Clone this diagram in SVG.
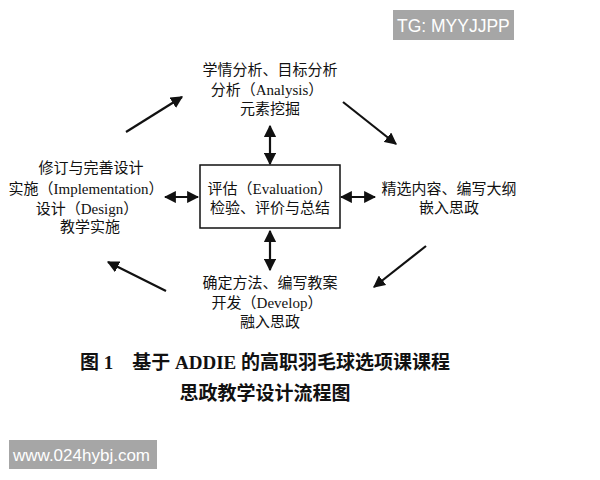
<svg xmlns="http://www.w3.org/2000/svg" width="600" height="480" viewBox="0 0 600 480">
<defs>
<marker id="ah" viewBox="0 0 10 10" refX="9" refY="5" markerWidth="5.5" markerHeight="5.5" orient="auto-start-reverse" markerUnits="strokeWidth">
<path d="M0,0 L10,5 L0,10 z" fill="#111"/>
</marker>
<style>
.t{font-family:"Liberation Serif","Noto Sans CJK SC",serif;font-size:15px;fill:#111;text-anchor:middle;dominant-baseline:central}
.c{font-family:"Liberation Serif","Noto Sans CJK SC",serif;font-size:19px;font-weight:bold;fill:#111;text-anchor:middle;dominant-baseline:central}
.w{font-family:"Liberation Sans","Noto Sans",sans-serif;fill:#fff;dominant-baseline:central}
.ln{stroke:#111;stroke-width:2.2;fill:none;marker-end:url(#ah)}
.dl{stroke:#111;stroke-width:2.2;fill:none;marker-end:url(#ah);marker-start:url(#ah)}
</style>
</defs>
<rect width="600" height="480" fill="#fff"/>
<g id="wm1"><rect x="393" y="10" width="121" height="30" fill="#a6a6a6"/><text class="w" x="397" y="25.500" font-size="17.500">TG: MYYJJPP</text></g>
<g id="analysis">
<text class="t" x="270" y="70">学情分析、目标分析</text>
<text class="t" x="267" y="90">分析（Analysis）</text>
<text class="t" x="270" y="109">元素挖掘</text>
</g>
<g id="evaluation">
<rect x="200" y="165" width="140" height="63" fill="#fff" stroke="#111" stroke-width="1.5"/>
<text class="t" x="270" y="189">评估（Evaluation）</text>
<text class="t" x="270" y="208">检验、评价与总结</text>
</g>
<g id="implementation">
<text class="t" x="91" y="168">修订与完善设计</text>
<text class="t" x="86" y="189">实施（Implementation）</text>
<text class="t" x="87" y="209">设计（Design）</text>
<text class="t" x="90" y="227">教学实施</text>
</g>
<g id="design">
<text class="t" x="449" y="189">精选内容、编写大纲</text>
<text class="t" x="449" y="208">嵌入思政</text>
</g>
<g id="develop">
<text class="t" x="270" y="283">确定方法、编写教案</text>
<text class="t" x="267" y="303">开发（Develop）</text>
<text class="t" x="270" y="322">融入思政</text>
</g>
<g id="connectors">
<line class="ln" x1="126" y1="132" x2="182" y2="97"/>
<line class="ln" x1="343" y1="102" x2="396" y2="144"/>
<line class="ln" x1="426" y1="246" x2="374" y2="287"/>
<line class="ln" x1="166" y1="291" x2="108" y2="262"/>
<line class="dl" x1="270" y1="126" x2="270" y2="164"/>
<line class="dl" x1="270" y1="231" x2="270" y2="270"/>
<line class="dl" x1="165" y1="197" x2="198" y2="197"/>
<line class="dl" x1="341" y1="197" x2="375" y2="197"/>
</g>
<g id="caption">
<text class="c" x="265" y="362">图 1　基于 ADDIE 的高职羽毛球选项课课程</text>
<text class="c" x="265" y="393">思政教学设计流程图</text>
</g>
<g id="wm2"><rect x="9" y="440" width="148" height="29" fill="#a6a6a6"/><text class="w" x="13" y="455" font-size="17">www.024hybj.com</text></g>
</svg>
